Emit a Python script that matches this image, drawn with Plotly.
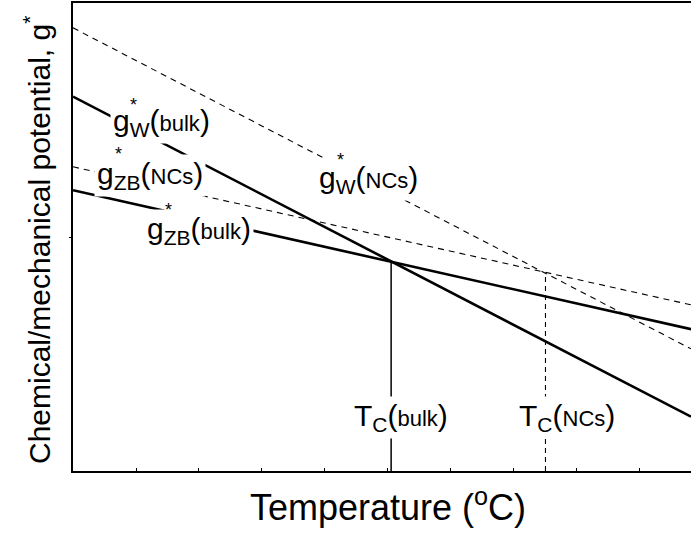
import plotly.graph_objects as go

# ---- data (schematic values, arbitrary units) ----
x_ends = [0.0, 9.81]
gW_bulk = [8.0, 1.16]
gZB_bulk = [6.0, 3.03]
gW_NCs = [9.47, 2.61]
gZB_NCs = [6.50, 3.55]
Tc_x = [5.05, 7.50]          # T_C(bulk), T_C(NCs)
Tc_g = [4.47, 4.23]          # potential at the crossings

FONT = "Arial, Liberation Sans, sans-serif"
W, H = 692, 538
L, R, T, B = 73, 1, 3, 67
PW, PH = W - L - R, H - T - B

def ppx(p):  # pixel x -> paper x
    return (p - L) / PW

def ppy(p):  # pixel y -> paper y
    return (H - B - p) / PH

fig = go.Figure()
solid = dict(color="black", width=2.6)
dashed = dict(color="black", width=1.1, dash="6px,5px")
fig.add_trace(go.Scatter(x=x_ends, y=gW_bulk, mode="lines", line=solid))
fig.add_trace(go.Scatter(x=x_ends, y=gZB_bulk, mode="lines", line=solid))
fig.add_trace(go.Scatter(x=x_ends, y=gW_NCs, mode="lines", line=dashed))
fig.add_trace(go.Scatter(x=x_ends, y=gZB_NCs, mode="lines", line=dashed))
fig.add_trace(go.Scatter(x=[Tc_x[0], Tc_x[0]], y=[0, Tc_g[0]], mode="lines",
                         line=dict(color="black", width=1.5)))
fig.add_trace(go.Scatter(x=[Tc_x[1], Tc_x[1]], y=[0, Tc_g[1]], mode="lines",
                         line=dict(color="black", width=1.1, dash="5px,4px")))

def small(s):
    return "<span style='font-size:22px'>" + s + "</span>"

labels = [
    ("g<sub>W</sub>(" + small("bulk") + ")", 161, 122, (133, 102)),
    ("g<sub>ZB</sub>(" + small("NCs") + ")", 150, 175, (118, 151)),
    ("g<sub>ZB</sub>(" + small("bulk") + ")", 199, 230, (168, 207)),
    ("g<sub>W</sub>(" + small("NCs") + ")", 368, 179, (340, 157)),
    ("T<sub>C</sub>(" + small("bulk") + ")", 401, 417, None),
    ("T<sub>C</sub>(" + small("NCs") + ")", 567, 417, None),
]
ann = []
for txt, cx, cy, star in labels:
    ann.append(dict(x=ppx(cx), y=ppy(cy), xref="paper", yref="paper", text=txt,
                    showarrow=False, xanchor="center", yanchor="middle",
                    bgcolor="white", borderpad=2,
                    font=dict(family=FONT, size=30, color="black")))
    if star:
        ann.append(dict(x=ppx(star[0]), y=ppy(star[1] + 3), xref="paper", yref="paper",
                        text="*", showarrow=False, xanchor="center", yanchor="middle",
                        bgcolor="white", borderpad=0,
                        font=dict(family=FONT, size=18, color="black")))

ann.append(dict(x=ppx(388), y=ppy(505), xref="paper", yref="paper",
                text="Temperature (<sup>o</sup>C)", showarrow=False,
                xanchor="center", yanchor="middle",
                font=dict(family=FONT, size=36, color="black")))
ann.append(dict(x=ppx(37), y=ppy(240), xref="paper", yref="paper",
                text="Chemical/mechanical potential, g<sup>*</sup>", showarrow=False,
                textangle=-90, xanchor="center", yanchor="middle",
                font=dict(family=FONT, size=30, color="black")))

fig.update_layout(
    width=W, height=H, margin=dict(l=L, r=R, t=T, b=B, pad=0),
    paper_bgcolor="white", plot_bgcolor="white", showlegend=False,
    annotations=ann,
    xaxis=dict(range=[0, 9.81], showgrid=False, zeroline=False, showline=True,
               linecolor="black", linewidth=2, mirror=True,
               tickvals=[1, 2, 3, 4, 5, 6, 7, 8, 9], ticks="inside", ticklen=3,
               tickwidth=1, tickcolor="black", showticklabels=False, fixedrange=True),
    yaxis=dict(range=[0, 10], showgrid=False, zeroline=False, showline=True,
               linecolor="black", linewidth=2, mirror=False,
               tickvals=[5], ticks="outside", ticklen=2, tickwidth=1,
               tickcolor="black", showticklabels=False, fixedrange=True),
)

fig.write_html("out.html", config={"displayModeBar": False})
